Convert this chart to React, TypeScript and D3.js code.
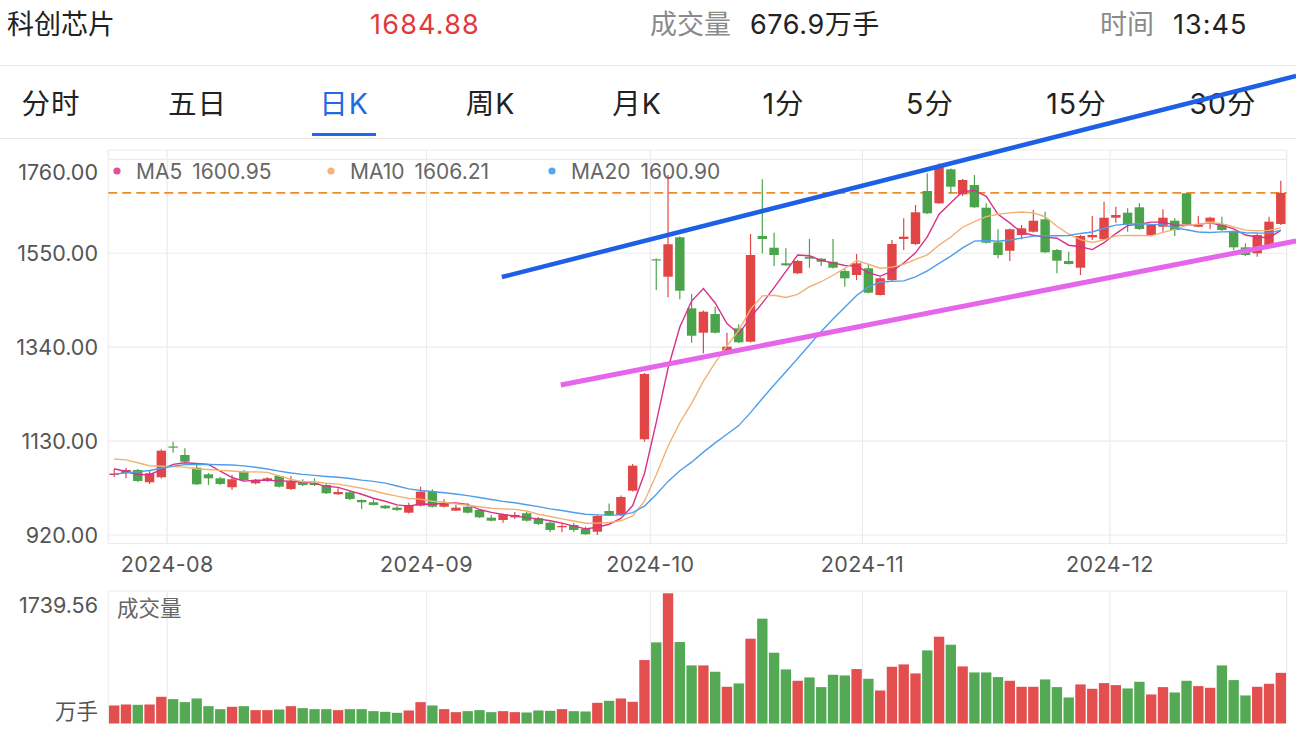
import React from "react";
import * as d3 from "d3";

// ---------- data ----------
const opens = [
  1054.2, 1058.0, 1065.4, 1037.9, 1049.1, 1117.9, 1098.9, 1070.5, 1055.7, 1046.8,
  1026.7, 1061.6, 1035.6, 1041.5, 1051.9, 1022.9, 1037.9, 1035.6, 1031.8, 1011.1,
  1015.5, 998.3, 993.2, 985.6, 981.1, 969.9, 985.6, 1016.9, 983.3, 974.4,
  983.3, 976.0, 958.7, 953.6, 959.6, 968.6, 957.4, 947.6, 937.3, 942.4,
  933.5, 927.4, 973.7, 964.8, 1019.1, 1134.0, 1536.4, 1497.5, 1585.6, 1426.8,
  1372.3, 1414.1, 1329.8, 1382.1, 1352.2, 1588.5, 1562.3, 1527.5, 1505.1, 1542.2,
  1537.8, 1531.0, 1510.2, 1501.3, 1516.3, 1456.6, 1490.1, 1581.8, 1570.6, 1689.1,
  1661.6, 1737.6, 1681.7, 1702.5, 1651.8, 1574.4, 1555.6, 1590.7, 1598.1, 1625.8,
  1557.2, 1532.6, 1517.6, 1585.6, 1581.1, 1629.4, 1640.6, 1652.7, 1590.7, 1609.3,
  1622.7, 1684.0, 1609.3, 1620.5, 1615.3, 1598.1, 1563.2, 1549.8, 1564.6, 1615.3,
];
const highs = [
  1067.6, 1070.5, 1067.6, 1063.1, 1111.7, 1128.6, 1113.9, 1080.3, 1058.7, 1050.4,
  1054.2, 1065.4, 1045.3, 1049.1, 1053.1, 1051.9, 1044.6, 1046.8, 1036.3, 1024.5,
  1018.4, 999.4, 999.9, 987.2, 984.9, 992.3, 1028.0, 1022.2, 999.9, 987.2,
  990.9, 978.2, 964.8, 968.1, 971.5, 971.5, 960.3, 950.2, 946.2, 946.9,
  938.6, 964.8, 990.5, 1008.4, 1078.8, 1282.2, 1538.2, 1724.9, 1587.4, 1458.8,
  1422.0, 1430.5, 1372.3, 1391.1, 1593.0, 1715.3, 1595.9, 1561.0, 1534.8, 1581.8,
  1539.3, 1581.8, 1514.7, 1548.3, 1523.7, 1497.5, 1579.6, 1628.1, 1657.8, 1728.7,
  1751.1, 1739.4, 1715.9, 1724.9, 1661.6, 1603.5, 1605.3, 1613.1, 1646.6, 1642.8,
  1559.4, 1553.4, 1590.7, 1633.2, 1665.2, 1654.0, 1650.4, 1661.6, 1615.3, 1648.2,
  1628.1, 1684.6, 1633.2, 1631.6, 1631.6, 1600.8, 1572.2, 1593.0, 1631.6, 1712.1,
];
const lows = [
  1049.7, 1046.8, 1038.6, 1034.1, 1046.4, 1104.0, 1082.1, 1031.8, 1031.8, 1031.8,
  1020.7, 1040.8, 1033.4, 1039.3, 1026.3, 1020.7, 1029.6, 1029.6, 1011.7, 1009.5,
  998.3, 978.2, 986.0, 978.2, 973.7, 968.1, 983.8, 981.5, 981.5, 973.7,
  968.1, 958.1, 950.2, 947.6, 955.8, 950.2, 942.4, 926.1, 926.1, 926.8,
  920.1, 920.1, 962.5, 962.5, 1017.3, 1128.6, 1467.8, 1451.4, 1447.0, 1350.0,
  1326.3, 1370.5, 1328.0, 1349.3, 1350.4, 1549.8, 1521.4, 1521.4, 1503.5, 1517.6,
  1521.4, 1515.8, 1475.1, 1490.1, 1459.9, 1455.5, 1487.9, 1557.2, 1568.4, 1637.7,
  1660.0, 1684.0, 1677.9, 1651.1, 1571.7, 1538.7, 1532.6, 1581.1, 1596.3, 1550.5,
  1505.1, 1524.8, 1501.3, 1579.6, 1579.6, 1618.2, 1598.1, 1601.9, 1588.5, 1598.1,
  1588.5, 1613.1, 1607.9, 1603.5, 1599.7, 1557.2, 1543.8, 1542.3, 1562.8, 1613.1,
];
const closes = [
  1057.5, 1065.4, 1040.8, 1058.0, 1108.5, 1116.3, 1083.9, 1033.4, 1046.8, 1034.1,
  1044.6, 1043.0, 1043.0, 1046.8, 1028.0, 1039.3, 1031.8, 1031.8, 1013.3, 1016.2,
  1000.6, 993.2, 987.2, 979.7, 976.0, 987.2, 1016.9, 983.3, 990.9, 981.1,
  969.9, 959.6, 952.0, 966.3, 964.8, 952.0, 944.7, 931.2, 940.2, 931.2,
  921.6, 962.5, 964.8, 1005.0, 1075.0, 1280.0, 1533.7, 1570.0, 1466.2, 1365.6,
  1419.3, 1372.3, 1341.0, 1350.9, 1546.0, 1581.8, 1546.0, 1523.0, 1532.6, 1537.8,
  1531.0, 1517.6, 1493.9, 1527.5, 1461.7, 1493.9, 1570.6, 1587.0, 1641.5, 1639.3,
  1747.3, 1698.7, 1713.7, 1652.7, 1573.5, 1546.0, 1603.5, 1605.7, 1622.7, 1552.0,
  1533.3, 1525.9, 1588.5, 1590.7, 1629.4, 1635.4, 1615.3, 1604.2, 1613.1, 1629.4,
  1601.9, 1615.3, 1613.1, 1629.4, 1601.9, 1563.2, 1546.0, 1590.7, 1620.5, 1684.88,
];
const volumes = [
  240.9, 254.2, 249.8, 254.2, 356.8, 325.6, 285.5, 334.5, 231.9, 191.8,
  223.0, 231.9, 178.4, 178.4, 187.3, 231.9, 205.2, 191.8, 191.8, 178.4,
  191.8, 191.8, 165.0, 156.1, 142.7, 174.0, 285.5, 240.9, 191.8, 151.7,
  165.0, 178.4, 151.7, 165.0, 151.7, 147.2, 174.0, 169.5, 191.8, 165.0,
  160.6, 276.5, 303.3, 334.5, 289.9, 847.5, 1083.9, 1739.56, 1088.3, 776.1,
  776.1, 691.4, 490.6, 535.2, 1132.9, 1400.6, 945.6, 722.6, 570.9, 615.5,
  486.2, 651.2, 642.3, 727.0, 597.7, 441.6, 758.3, 789.5, 669.1, 976.8,
  1159.7, 1052.7, 762.7, 682.4, 682.4, 620.0, 570.9, 490.6, 490.6, 588.8,
  486.2, 347.9, 521.9, 463.9, 539.7, 512.9, 468.3, 557.6, 388.1, 486.2,
  414.8, 570.9, 499.6, 477.3, 776.1, 579.9, 374.7, 490.6, 530.8, 676.9,
];
// closes before the visible window (estimated from where the MA lines start)
const priorCloses = [
  1000, 1005, 995, 1010, 1020, 1015, 1030, 1040, 1050, 1055,
  1085, 1105, 1125, 1120, 1125, 1095, 1075, 1060, 1052.5,
];
const monthTickIndex = [5, 27, 46, 64, 85];
const monthTickLabels = ["2024-08", "2024-09", "2024-10", "2024-11", "2024-12"];
const priceTicks = [920, 1130, 1340, 1550, 1760];
const maPeriods = [5, 10, 20];
const maNames = ["MA5", "MA10", "MA20"];
const maLegendValues = ["1600.95", "1606.21", "1600.90"];
const tabs = ["分时", "五日", "日K", "周K", "月K", "1分", "5分", "15分", "30分"];
const activeTab = 2;
const lastPrice = 1684.88;
const volumeMax = 1739.56;
// user-drawn trend lines: [fractional candle index, price]
const blueTrend: [number, number][] = [[32.9, 1496.8], [100.3, 1946.2]];
const pinkTrend: [number, number][] = [[37.9, 1255.4], [100.3, 1577.3]];

// ---------- styling ----------
const W = 1296, H = 736;
const PL = 108.3, PR = 1286.7;
const MAIN_TOP = 150, MAIN_BOTTOM = 543.5;
const VOL_TOP = 591, VOL_BOTTOM = 723.5;
const RED = "#E24545", GREEN = "#4BA44B";
const MA_COLORS = ["#D8318A", "#F0B274", "#4E9EEA"];
const DOT_COLORS = ["#E0509A", "#F2B478", "#5AA6EE"];
const GRID = "#EBEBEB";
const FONT = "Inter, 'Noto Sans CJK SC', sans-serif";

export default function App() {
  const n = closes.length;
  const idx = d3.range(n);
  const x = d3.scaleBand<number>().domain(idx).range([PL, PR]).paddingInner(0.2).paddingOuter(0.1);
  const xv = d3.scaleBand<number>().domain(idx).range([PL, PR]).paddingInner(0.12).paddingOuter(0.06);
  const step = x.step();
  const cx = (i: number) => (x(i) as number) + x.bandwidth() / 2;
  const fx = (f: number) => PL + (f + 0.5) * step;
  const boundary = (i: number) => PL + i * step;
  const y = d3.scaleLinear().domain([920, 1760]).range([535, 159.3]);
  const yv = d3.scaleLinear().domain([0, volumeMax]).range([VOL_BOTTOM, 593.3]);

  const all = priorCloses.concat(closes);
  const off = priorCloses.length;
  const mas = maPeriods.map((p) =>
    idx.map((i) => {
      const s = Math.max(0, i + off - p + 1);
      return d3.mean(all.slice(s, i + off + 1)) as number;
    })
  );
  const line = d3.line<number>().x((_, i) => cx(i)).y((d) => y(d));
  const tline = d3.line<[number, number]>().x((d) => fx(d[0])).y((d) => y(d[1]));

  const tabStep = 146.5;
  const tabX0 = 51;
  const legendX = [117, 331, 552];

  return (
    <svg
      width={W}
      height={H}
      style={{ position: "absolute", left: 0, top: 0, background: "#fff" }}
      fontFamily={FONT}
    >
      <rect x={0} y={0} width={W} height={H} fill="#fff" />
      {/* header */}
      <g fontSize={27} dominantBaseline="central">
        <text x={7} y={24} fill="#222">科创芯片</text>
        <text x={370} y={24} fill="#E03A3A" letterSpacing={1.2}>{lastPrice.toFixed(2)}</text>
        <text x={650} y={24} fill="#8A8A8A">成交量</text>
        <text x={750} y={24} fill="#222" letterSpacing={0.6}>676.9万手</text>
        <text x={1100} y={24} fill="#8A8A8A">时间</text>
        <text x={1173} y={24} fill="#222" letterSpacing={1}>13:45</text>
      </g>
      <line x1={0} x2={W} y1={65.5} y2={65.5} stroke="#E8E8E8" />
      {/* tabs */}
      <g fontSize={28.5} dominantBaseline="central" textAnchor="middle">
        {tabs.map((t, k) => (
          <text key={t} x={tabX0 + k * tabStep} y={103} fill={k === activeTab ? "#1F6BE3" : "#222"} letterSpacing={1}>
            {t}
          </text>
        ))}
      </g>
      <rect x={tabX0 + activeTab * tabStep - 32} y={133} width={64} height={3} fill="#1F6BE3" />
      <line x1={0} x2={W} y1={138.5} y2={138.5} stroke="#E8E8E8" />

      {/* main grid */}
      <g stroke={GRID} strokeWidth={1.2} fill="none">
        <line x1={PL} x2={PR} y1={MAIN_TOP} y2={MAIN_TOP} />
        <line x1={PL} x2={PR} y1={MAIN_BOTTOM} y2={MAIN_BOTTOM} />
        <line x1={PL} x2={PL} y1={MAIN_TOP} y2={MAIN_BOTTOM} />
        <line x1={PR} x2={PR} y1={MAIN_TOP} y2={MAIN_BOTTOM} />
        {priceTicks.map((v) => (
          <line key={v} x1={PL} x2={PR} y1={y(v)} y2={y(v)} />
        ))}
        {monthTickIndex.map((i) => (
          <line key={i} x1={boundary(i)} x2={boundary(i)} y1={MAIN_TOP} y2={MAIN_BOTTOM} />
        ))}
        {/* volume pane */}
        <line x1={PL} x2={PR} y1={VOL_TOP} y2={VOL_TOP} />
        <line x1={PL} x2={PL} y1={VOL_TOP} y2={VOL_BOTTOM} />
        <line x1={PR} x2={PR} y1={VOL_TOP} y2={VOL_BOTTOM} />
        {monthTickIndex.map((i) => (
          <line key={"v" + i} x1={boundary(i)} x2={boundary(i)} y1={VOL_TOP} y2={VOL_BOTTOM} />
        ))}
      </g>

      {/* y labels */}
      <g fontSize={21.5} fill="#555" textAnchor="end" dominantBaseline="central">
        {priceTicks.map((v) => (
          <text key={v} x={98} y={Math.max(y(v), 172)}>{v.toFixed(2)}</text>
        ))}
      </g>
      {/* x labels */}
      <g fontSize={21.5} fill="#555" textAnchor="middle" dominantBaseline="central" letterSpacing={0.4}>
        {monthTickIndex.map((i, k) => (
          <text key={i} x={boundary(i)} y={564}>{monthTickLabels[k]}</text>
        ))}
      </g>

      {/* current price dashed line */}
      <line x1={PL} x2={PR} y1={y(lastPrice)} y2={y(lastPrice)} stroke="#EE8B2C" strokeWidth={1.8} strokeDasharray="9 5" />

      {/* candles */}
      <g>
        {idx.map((i) => {
          const up = closes[i] >= opens[i];
          const c = up ? RED : GREEN;
          const top = y(Math.max(opens[i], closes[i]));
          const bot = y(Math.min(opens[i], closes[i]));
          return (
            <g key={i}>
              <line x1={cx(i)} x2={cx(i)} y1={y(highs[i])} y2={y(lows[i])} stroke={c} strokeWidth={1.2} />
              <rect x={x(i)} y={top} width={x.bandwidth()} height={Math.max(1.2, bot - top)} fill={c} />
            </g>
          );
        })}
      </g>

      {/* moving averages */}
      {mas.map((m, k) => (
        <path key={k} d={line(m) as string} fill="none" stroke={MA_COLORS[k]} strokeWidth={1.4} />
      ))}

      {/* legend */}
      <g fontSize={21} fill="#666" dominantBaseline="central">
        {maNames.map((nm, k) => (
          <g key={nm}>
            <circle cx={legendX[k]} cy={171} r={3.6} fill={DOT_COLORS[k]} />
            <text x={legendX[k] + 19} y={171}>
              <tspan>{nm}</tspan>
              <tspan dx={10}>{maLegendValues[k]}</tspan>
            </text>
          </g>
        ))}
      </g>

      {/* volume */}
      <g>
        {idx.map((i) => {
          const up = closes[i] >= opens[i];
          const c = up ? RED : GREEN;
          return (
            <rect
              key={i}
              x={xv(i)}
              y={yv(volumes[i])}
              width={xv.bandwidth()}
              height={VOL_BOTTOM - yv(volumes[i])}
              fill={c}
              fillOpacity={0.95}
            />
          );
        })}
      </g>
      <g fontSize={21.5} fill="#555" dominantBaseline="central">
        <text x={98} y={605} textAnchor="end">{volumeMax.toFixed(2)}</text>
        <text x={98} y={711} textAnchor="end">万手</text>
        <text x={117} y={608} fill="#666">成交量</text>
      </g>

      {/* trend lines */}
      <path d={tline(blueTrend) as string} stroke="#1D5FE5" strokeWidth={4.5} fill="none" />
      <path d={tline(pinkTrend) as string} stroke="#E566EA" strokeWidth={5} fill="none" />
    </svg>
  );
}
